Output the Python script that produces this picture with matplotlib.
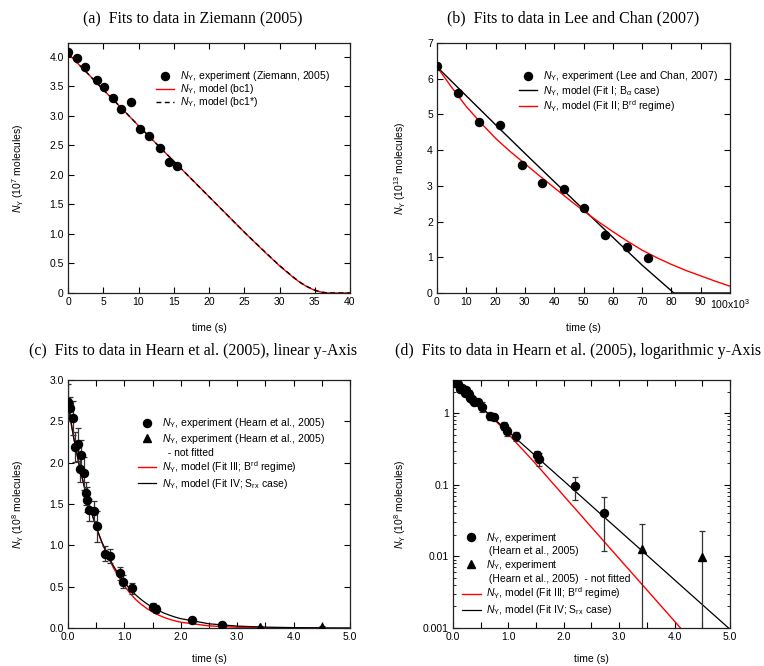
import matplotlib
matplotlib.use("Agg")
import matplotlib.pyplot as plt
from matplotlib.lines import Line2D
from matplotlib.ticker import MultipleLocator, FixedLocator, FuncFormatter, LogLocator, NullFormatter, FixedFormatter

plt.rcParams.update({
    "font.family": ["Liberation Sans", "DejaVu Sans"],
    "font.size": 7.5,
    "mathtext.fontset": "custom",
    "mathtext.rm": "Liberation Sans",
    "mathtext.it": "Liberation Sans:italic",
    "mathtext.bf": "Liberation Sans:bold",
    "axes.linewidth": 0.9,
    "axes.edgecolor": "#222222",
    "xtick.direction": "in",
    "ytick.direction": "in",
    "xtick.top": True,
    "ytick.right": True,
    "xtick.major.size": 4,
    "ytick.major.size": 4,
    "xtick.minor.size": 2.5,
    "ytick.minor.size": 2.5,
    "xtick.major.width": 0.8,
    "ytick.major.width": 0.8,
    "xtick.minor.width": 0.6,
    "ytick.minor.width": 0.6,
    "xtick.major.pad": 3,
    "ytick.major.pad": 3,
})

# ---------------- (a) Ziemann (2005) ----------------
zie_t = [0.0, 1.28, 2.47, 4.08, 5.17, 6.36, 7.5, 8.97, 10.25, 11.48, 13.05, 14.28, 15.42]
zie_n = [4.07, 3.97, 3.82, 3.60, 3.49, 3.30, 3.12, 3.23, 2.78, 2.65, 2.45, 2.22, 2.15]

bc1_t = [0, 2.5, 5, 7.5, 10, 12.5, 15, 17.5, 20, 22.5, 25, 27.5, 30, 31, 32, 33, 34, 35, 36, 37, 40]
bc1_n = [4.05, 3.75, 3.44, 3.14, 2.83, 2.53, 2.23, 1.93, 1.63, 1.33, 1.03, 0.74, 0.46,
         0.36, 0.26, 0.17, 0.10, 0.045, 0.012, 0.0, 0.0]
bc1s_t = [0, 2.5, 5, 7.5, 10, 12.5, 15, 17.5, 20, 22.5, 25, 27.5, 30, 31, 32, 33, 34, 35, 36, 37, 40]
bc1s_n = [4.05, 3.75, 3.44, 3.14, 2.83, 2.53, 2.23, 1.93, 1.63, 1.33, 1.03, 0.745, 0.465,
          0.365, 0.265, 0.175, 0.105, 0.048, 0.014, 0.0, 0.0]

# ---------------- (b) Lee and Chan (2007), time in 10^3 s ----------------
lee_t = [0.0, 7.3, 14.4, 21.6, 28.9, 36.0, 43.2, 50.3, 57.5, 64.8, 71.9]
lee_n = [6.35, 5.60, 4.78, 4.71, 3.58, 3.08, 2.90, 2.39, 1.63, 1.29, 0.99]

fit1_t = [0, 10, 20, 30, 40, 50, 60, 70, 80, 80.8, 100]
fit1_n = [6.33, 5.52, 4.71, 3.91, 3.12, 2.34, 1.56, 0.78, 0.06, 0.0, 0.0]

fit2_t = [0, 5, 10, 15, 20, 25, 30, 35, 40, 45, 50, 55, 60, 65, 70, 75, 80, 85, 90, 95, 100]
fit2_n = [6.33, 5.76, 5.22, 4.76, 4.33, 3.96, 3.62, 3.28, 2.95, 2.62, 2.30, 2.00, 1.72,
          1.45, 1.20, 0.99, 0.80, 0.63, 0.48, 0.33, 0.19]

# ---------------- (c), (d) Hearn et al. (2005) ----------------
hearn_t = [0.00, 0.04, 0.095, 0.12, 0.17, 0.21, 0.23, 0.28, 0.315, 0.345, 0.375, 0.46,
           0.52, 0.66, 0.74, 0.92, 0.98, 1.13, 1.51, 1.56, 2.20, 2.73]
hearn_n = [2.73, 2.66, 2.54, 2.19, 2.22, 1.92, 2.09, 1.87, 1.63, 1.55, 1.43, 1.42,
           1.23, 0.90, 0.87, 0.66, 0.56, 0.48, 0.26, 0.23, 0.095, 0.040]
hearn_err = [0.22, 0.13, 0.20, 0.18, 0.20, 0.15, 0.18, 0.20, 0.14, 0.15, 0.13, 0.12,
             0.19, 0.09, 0.08, 0.08, 0.08, 0.07, 0.04, 0.05, 0.033, 0.028]

nf_t = [3.41, 4.50]
nf_n = [0.0125, 0.0098]
nf_err = [0.0155, 0.013]

fit3_t = [0.0, 0.1, 0.2, 0.3, 0.4, 0.5, 0.6, 0.7, 0.8, 0.9, 1.0, 1.1, 1.2, 1.3, 1.4, 1.5,
          1.6, 1.7, 1.8, 1.9, 2.0, 2.5, 3.0, 3.5, 4.0, 4.5]
fit3_n = [2.70, 2.31, 1.97, 1.68, 1.43, 1.22, 1.035, 0.875, 0.735, 0.615, 0.51, 0.42,
          0.345, 0.285, 0.235, 0.193, 0.158, 0.129, 0.105, 0.086, 0.070, 0.0255,
          0.0093, 0.0034, 0.00124, 0.00045]

fit4_t = [0.0, 0.1, 0.2, 0.3, 0.4, 0.5, 0.6, 0.7, 0.8, 0.9, 1.0, 1.1, 1.2, 1.3, 1.4, 1.5,
          1.6, 1.7, 1.8, 1.9, 2.0, 2.5, 3.0, 3.5, 4.0, 4.5, 5.0]
fit4_n = [2.70, 2.303, 1.965, 1.677, 1.430, 1.220, 1.041, 0.888, 0.758, 0.646, 0.551,
          0.470, 0.401, 0.342, 0.292, 0.249, 0.213, 0.181, 0.155, 0.132, 0.113,
          0.0508, 0.0230, 0.0104, 0.00469, 0.00212, 0.00096]

W, H = 764, 666
fig = plt.figure(figsize=(W / 100, H / 100), dpi=100)


def box(l, r, t, b):
    return [l / W, (H - b) / H, (r - l) / W, (b - t) / H]


ax_a = fig.add_axes(box(68, 350, 43, 293))
ax_b = fig.add_axes(box(437, 730, 43, 293))
ax_c = fig.add_axes(box(68, 350, 380, 628))
ax_d = fig.add_axes(box(453, 730, 380, 628))

title_kw = dict(family=["Liberation Serif", "DejaVu Serif"], fontsize=11.4, ha="center", va="center")
fig.text(193 / W, 1 - 18 / H, "(a)  Fits to data in Ziemann (2005)", **title_kw)
fig.text(573 / W, 1 - 18 / H, "(b)  Fits to data in Lee and Chan (2007)", **title_kw)
fig.text(193 / W, 1 - 351 / H, "(c)  Fits to data in Hearn et al. (2005), linear y-Axis", **title_kw)
fig.text(578 / W, 1 - 351 / H, "(d)  Fits to data in Hearn et al. (2005), logarithmic y-Axis", **title_kw)

NY = r"$N_{\rm Y}$"
MS = 5.8
leg_kw = dict(frameon=False, loc="upper left", borderpad=0, borderaxespad=0,
              handlelength=1.8, handletextpad=0.5, fontsize=7.5)

# ---- (a)
ax_a.plot(bc1_t, bc1_n, color="red", lw=1.0, label=NY + ", model (bc1)", zorder=2)
ax_a.plot(bc1s_t, bc1s_n, color="black", lw=1.0, ls=(0, (3.5, 2.5)), label=NY + ", model (bc1*)", zorder=3)
ax_a.plot(zie_t, zie_n, "o", color="black", ms=MS, ls="none",
          label=NY + ", experiment (Ziemann, 2005)", zorder=4)
ax_a.set_xlim(0, 40)
ax_a.set_ylim(0, 4.23)
ax_a.xaxis.set_major_locator(MultipleLocator(5))
ax_a.yaxis.set_major_locator(MultipleLocator(0.5))
ax_a.yaxis.set_major_formatter(FuncFormatter(lambda v, p: "0" if abs(v) < 1e-9 else f"{v:.1f}"))
h, l = ax_a.get_legend_handles_labels()
ax_a.legend([h[2], h[0], h[1]], [l[2], l[0], l[1]], bbox_to_anchor=(0.311, 0.895),
            labelspacing=-0.1, **leg_kw)
ax_a.set_ylabel(NY + r" (10$^{7}$ molecules)")
ax_a.set_xlabel("time (s)")

# ---- (b)
ax_b.plot(fit1_t, fit1_n, color="black", lw=1.0, label=NY + r", model (Fit I; B$_{\alpha}$ case)", zorder=2)
ax_b.plot(fit2_t, fit2_n, color="red", lw=1.0, label=NY + r", model (Fit II; B$^{\rm rd}$ regime)", zorder=3)
ax_b.plot(lee_t, lee_n, "o", color="black", ms=MS, ls="none",
          label=NY + ", experiment (Lee and Chan, 2007)", zorder=4)
ax_b.set_xlim(0, 100)
ax_b.set_ylim(0, 7)
xt = list(range(0, 101, 10))
ax_b.xaxis.set_major_locator(FixedLocator(xt))
ax_b.xaxis.set_major_formatter(FixedFormatter([str(v) for v in xt[:-1]] + [r"100x10$^{3}$"]))
ax_b.yaxis.set_major_locator(MultipleLocator(1))
h, l = ax_b.get_legend_handles_labels()
ax_b.legend([h[2], h[0], h[1]], [l[2], l[0], l[1]], bbox_to_anchor=(0.279, 0.895),
            labelspacing=0.05, **leg_kw)
ax_b.set_ylabel(NY + r" (10$^{13}$ molecules)")
ax_b.set_xlabel("time (s)")


# ---- (c) and (d)
def hearn_panel(ax):
    ax.errorbar(hearn_t, hearn_n, yerr=hearn_err, fmt="none", ecolor="#333333",
                elinewidth=0.9, capsize=2.5, capthick=0.9, zorder=3)
    ax.errorbar(nf_t, nf_n, yerr=nf_err, fmt="none", ecolor="#333333",
                elinewidth=0.9, capsize=2.5, capthick=0.9, zorder=3)
    r, = ax.plot(fit3_t, fit3_n, color="red", lw=1.0, zorder=2)
    k, = ax.plot(fit4_t, fit4_n, color="black", lw=0.9, zorder=2)
    c, = ax.plot(hearn_t, hearn_n, "o", color="black", ms=MS, ls="none", zorder=4)
    t, = ax.plot(nf_t, nf_n, "^", color="black", ms=MS + 0.5, ls="none", zorder=4)
    ax.set_xlim(0, 5)
    ax.xaxis.set_major_locator(MultipleLocator(0.5))
    ax.xaxis.set_major_formatter(FuncFormatter(
        lambda v, p: f"{v:.1f}" if abs(v - round(v)) < 1e-6 else ""))
    ax.set_xlabel("time (s)")
    ax.set_ylabel(NY + r" (10$^{8}$ molecules)")
    return c, t, r, k


blank = Line2D([], [], ls="none")

c, t, r, k = hearn_panel(ax_c)
ax_c.set_ylim(0, 3.0)
ax_c.yaxis.set_major_locator(MultipleLocator(0.5))
ax_c.yaxis.set_major_formatter(FuncFormatter(lambda v, p: f"{v:.1f}"))
ax_c.legend([c, t, blank, r, k],
            [NY + ", experiment (Hearn et al., 2005)",
             NY + ", experiment (Hearn et al., 2005)",
             "  - not fitted",
             NY + r", model (Fit III; B$^{\rm rd}$ regime)",
             NY + r", model (Fit IV; S$_{\rm rx}$ case)"],
            bbox_to_anchor=(0.247, 0.853), labelspacing=0.15, **leg_kw)

c, t, r, k = hearn_panel(ax_d)
ax_d.set_yscale("log")
ax_d.set_ylim(0.001, 2.9)
ax_d.yaxis.set_major_locator(FixedLocator([0.001, 0.01, 0.1, 1]))
ax_d.yaxis.set_major_formatter(FixedFormatter(["0.001", "0.01", "0.1", "1"]))
ax_d.yaxis.set_minor_locator(LogLocator(base=10, subs=range(2, 10)))
ax_d.yaxis.set_minor_formatter(NullFormatter())
ax_d.legend([c, blank, t, blank, r, k],
            [NY + ", experiment",
             " (Hearn et al., 2005)",
             NY + ", experiment",
             " (Hearn et al., 2005)  - not fitted",
             NY + r", model (Fit III; B$^{\rm rd}$ regime)",
             NY + r", model (Fit IV; S$_{\rm rx}$ case)"],
            bbox_to_anchor=(0.032, 0.393), labelspacing=0.17, **leg_kw)

# label placement
ax_a.xaxis.set_label_coords(0.5, -0.119)
ax_b.xaxis.set_label_coords(0.5, -0.119)
ax_c.xaxis.set_label_coords(0.5, -0.103)
ax_d.xaxis.set_label_coords(0.5, -0.103)
ax_a.yaxis.set_label_coords(-0.149, 0.5)
ax_b.yaxis.set_label_coords(-0.099, 0.5)
ax_c.yaxis.set_label_coords(-0.149, 0.5)
ax_d.yaxis.set_label_coords(-0.162, 0.5)

fig.savefig("out.png", dpi=100)
